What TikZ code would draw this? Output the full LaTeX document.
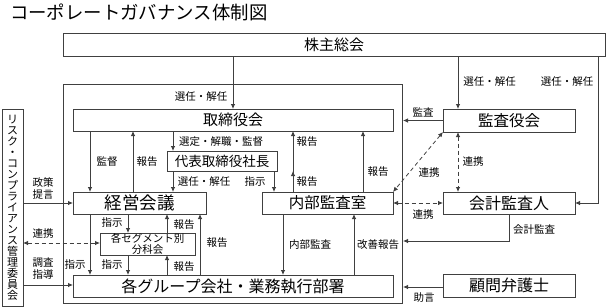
\documentclass[tikz,border=0pt]{standalone}
\usepackage{fontspec}
\setmainfont{Noto Sans CJK JP}
\usetikzlibrary{arrows.meta,calc}
\begin{document}
\begin{tikzpicture}[x=1pt,y=-1pt,
  line/.style={draw=black!75, line width=0.8pt},
  arr/.style={line, -{Latex[length=5pt,width=4.5pt]}},
  darr/.style={line, {Latex[length=5pt,width=4.5pt]}-{Latex[length=5pt,width=4.5pt]}, dash pattern=on 4pt off 3pt},
  box/.style={draw=black!75, line width=0.8pt, fill=white, inner sep=0pt, outer sep=0pt, align=center},
  lbl/.style={font=\fontsize{10.5}{12}\selectfont, inner sep=0pt, align=center},
]
\useasboundingbox (0,0) rectangle (606,308);

\node[anchor=west, inner sep=0pt, font=\fontsize{18.4}{20}\selectfont] (title) at (10,12) {コーポレートガバナンス体制図};

% outer double frame
\node[draw=black!75, double=white, double distance=2pt, line width=0.7pt,
      minimum width=336.6pt, minimum height=216.6pt, inner sep=0pt, outer sep=1.7pt] (frame) at (233,194) {};

% boxes
\node[box, minimum width=542pt, minimum height=23pt, font=\fontsize{15}{16}\selectfont] (kabu) at (334,44.5) {株主総会};
\node[box, minimum width=320pt, minimum height=22pt, font=\fontsize{15}{16}\selectfont] (tori) at (233,120) {取締役会};
\node[box, minimum width=110pt, minimum height=20pt, font=\fontsize{13.5}{15}\selectfont] (daihyo) at (222,161) {代表取締役社長};
\node[box, minimum width=133pt, minimum height=22pt, font=\fontsize{17.5}{18}\selectfont] (keiei) at (139.5,203) {経営会議};
\node[box, minimum width=131pt, minimum height=22pt, font=\fontsize{15.5}{16}\selectfont] (naibu) at (327.5,203) {内部監査室};
\node[box, minimum width=95pt, minimum height=22pt, font=\fontsize{10.5}{10.5}\selectfont] (seg) at (147.5,244) {各セグメント別\\分科会};
\node[box, minimum width=320pt, minimum height=22pt, font=\fontsize{16}{17}\selectfont] (group) at (233,286) {各グループ会社・業務執行部署};
\node[box, minimum width=132pt, minimum height=23pt, font=\fontsize{15.5}{16}\selectfont] (kansa) at (509,120.5) {監査役会};
\node[box, minimum width=132pt, minimum height=22pt, font=\fontsize{16}{17}\selectfont] (kaikei) at (509,203) {会計監査人};
\node[box, minimum width=132pt, minimum height=23pt, font=\fontsize{16}{17}\selectfont] (komon) at (509,285.5) {顧問弁護士};
\node[box, minimum width=21pt, minimum height=197pt, font=\fontsize{11}{11}\selectfont] (risk) at (12.5,207.5)
  {リ\\ス\\ク\\・\\コ\\ン\\プ\\ラ\\イ\\ア\\ン\\ス\\管\\理\\委\\員\\会};

% connectors: shareholders
\draw[arr] (kabu.south -| 233,0) -- (tori.north -| 233,0);
\node[lbl] (l1) at (201,97) {選任・解任};
\draw[arr] (kabu.south -| 458,0) -- (kansa.north -| 458,0);
\node[lbl] (l2) at (489.5,82) {選任・解任};
\draw[arr] (kabu.south -| 598,0) |- (kaikei.east);
\node[lbl] (l3) at (567,82) {選任・解任};

% board
\draw[arr] (tori.south -| 90,0) -- (keiei.north -| 90,0);
\node[lbl] (l4) at (107,162) {監督};
\draw[arr] (keiei.north -| 133,0) -- (tori.south -| 133,0);
\node[lbl] (l5) at (147,162) {報告};
\draw[arr] (tori.south -| 173,0) -- (daihyo.north -| 173,0);
\node[lbl] (l6) at (221,142) {選定・解職・監督};
\draw[arr] (daihyo.south -| 173,0) -- (keiei.north -| 173,0);
\node[lbl] (l7) at (204,182) {選任・解任};
\draw[arr] (daihyo.south -| 274,0) -- (naibu.north -| 274,0);
\node[lbl] (l8) at (255,182) {指示};
\draw[arr] (naibu.north -| 293,0) -- (tori.south -| 293,0);
\coordinate (mid293) at (293,171);
\draw[arr] (naibu.north -| 293,0) -- (mid293);
\node[lbl] (l9) at (307,142) {報告};
\node[lbl] (l10) at (307,182) {報告};
\draw[arr] (naibu.north -| 363,0) -- (tori.south -| 363,0);
\node[lbl] (l11) at (378,172) {報告};

% management
\draw[arr] (keiei.south -| 128,0) -- (seg.north -| 128,0);
\node[lbl] (l12) at (112,223) {指示};
\draw[arr] (seg.north -| 167,0) -- (keiei.south -| 167,0);
\node[lbl] (l13) at (184,225) {報告};
\draw[arr] (keiei.south -| 90,0) -- (group.north -| 90,0);
\node[lbl] (l14) at (75,265) {指示};
\draw[arr] (seg.south -| 128,0) -- (group.north -| 128,0);
\node[lbl] (l15) at (112,265) {指示};
\draw[arr] (group.north -| 167,0) -- (seg.south -| 167,0);
\node[lbl] (l16) at (184,267) {報告};
\draw[arr] (group.north -| 200,0) -- (keiei.south -| 200,0);
\node[lbl] (l17) at (217,243) {報告};

% internal audit
\draw[arr] (naibu.south -| 283,0) -- (group.north -| 283,0);
\node[lbl] (l18) at (310,245) {内部監査};
\draw[arr] (group.north -| 354,0) -- (naibu.south -| 354,0);
\node[lbl] (l19) at (378,245) {改善報告};

% risk committee
\draw[arr] (risk.east |- 0,203) -- (keiei.west);
\node[lbl] (l20) at (43,188) {政策\\提言};
\draw[darr] (risk.east |- 0,243) -- (seg.west |- 0,243);
\node[lbl] (l21) at (43,234) {連携};
\draw[arr] (risk.east |- 0,285) -- (group.west |- 0,285);
\node[lbl] (l22) at (43,269) {調査\\指導};

% auditors
\draw[arr] (kansa.west) -- (frame.east |- kansa.west);
\node[lbl] (l23) at (423,112) {監査};
\draw[darr] (kansa.south west) -- (naibu.north east);
\node[lbl] (l24) at (429,173) {連携};
\draw[darr] (kansa.south -| 458,0) -- (kaikei.north -| 458,0);
\node[lbl] (l25) at (473,162) {連携};
\draw[darr] (naibu.east) -- (kaikei.west);
\node[lbl] (l26) at (423,215) {連携};
\draw[arr] (kaikei.south -| 509,0) |- (frame.east |- 0,241);
\node[lbl] (l27) at (534,230) {会計監査};
\draw[arr] (komon.west |- 0,287) -- (frame.east |- 0,287);
\node[lbl] (l28) at (424,298) {助言};
\end{tikzpicture}
\end{document}
